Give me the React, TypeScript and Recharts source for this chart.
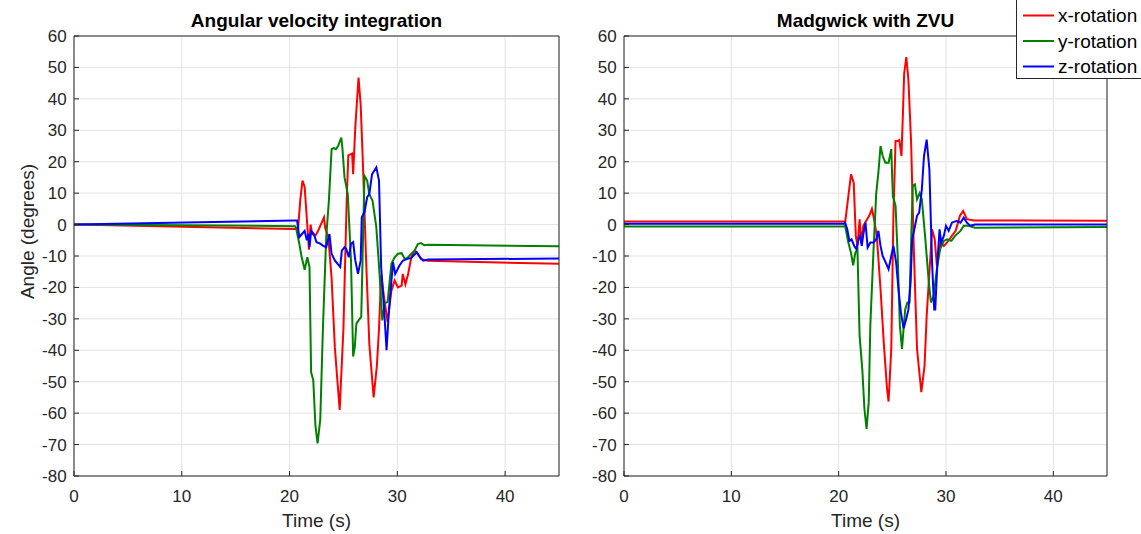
import { CartesianGrid, Line, LineChart, XAxis, YAxis } from "recharts";

// [time (s), angle (deg)]
const intX: [number, number][] = [
  [0, 0], [20.5, -1.4], [20.8, -1], [21.0, 8], [21.2, 14], [21.4, 12], [21.6, 2], [21.8, -8],
  [21.95, 0], [22.1, -3], [22.4, -3.5], [22.6, -2.4], [22.9, 0], [23.2, 2.3], [23.3, -1],
  [23.6, -4], [23.9, -17], [24.2, -39], [24.65, -59], [25.0, -33], [25.3, 7.6], [25.45, 22],
  [25.8, 22.6], [25.9, 16], [26.1, 31], [26.4, 46.8], [26.6, 38], [26.8, 20], [27.1, -11],
  [27.4, -38], [27.8, -55], [28.1, -45], [28.3, -33], [28.5, -16], [28.8, -24], [29.1, -31],
  [29.45, -21], [29.75, -17.8], [30.06, -20], [30.4, -19.4], [30.5, -15.7], [30.75, -19],
  [31.0, -15.7], [31.3, -10.4], [31.6, -8.3], [31.9, -9.3], [32.2, -11], [32.85, -11.5],
  [45, -12.5],
];
const intY: [number, number][] = [
  [0, 0], [20.5, -0.5], [20.6, -1], [20.9, -6], [21.1, -10], [21.4, -14.4], [21.65, -10.4],
  [21.85, -13.5], [22.0, -47], [22.2, -49.5], [22.4, -64], [22.6, -69.6], [22.85, -62],
  [23.1, -32.6], [23.4, -4], [23.65, 7.6], [23.9, 24], [24.1, 24.3], [24.3, 24], [24.5, 25],
  [24.8, 27.7], [24.9, 24.5], [25.1, 15], [25.4, 9.7], [25.7, -11.4], [25.9, -42], [26.05, -39],
  [26.2, -31.5], [26.4, -30.5], [26.65, -29.4], [26.8, -7], [26.95, 15.5], [27.2, 14],
  [27.4, 9.7], [27.7, 7.6], [28.05, -0.8], [28.35, -15.7], [28.6, -30.5], [28.85, -25],
  [29.1, -24.6], [29.45, -12.5], [29.75, -10.4], [30.05, -9.3], [30.4, -9.1], [30.7, -11],
  [31.0, -10.4], [31.3, -9.3], [31.6, -8.3], [31.9, -6.2], [32.2, -5.9], [32.5, -6.6],
  [32.85, -6.4], [45, -6.9],
];
const intZ: [number, number][] = [
  [0, 0], [20.45, 1.3], [20.7, 1.3], [20.9, -4], [21.15, -3], [21.4, -2], [21.6, -5],
  [21.75, -3], [21.85, -7.2], [22.0, -2], [22.25, -3], [22.5, -5.6], [22.8, -6], [23.1, -6.7],
  [23.4, -7.2], [23.7, -3], [23.9, -9.3], [24.2, -11.4], [24.5, -12.7], [24.7, -13.5],
  [24.85, -8.3], [25.1, -7.2], [25.25, -7.7], [25.5, -10.4], [25.7, -6.1], [25.9, -5.6],
  [26.1, -11.4], [26.35, -15.7], [26.6, -11.4], [26.7, 2.3], [26.95, 3.9], [27.2, 8.7],
  [27.4, 9.7], [27.65, 16], [28.05, 18.2], [28.3, 14], [28.5, -13.5], [28.8, -28.4], [29.0, -40],
  [29.2, -28.4], [29.4, -20], [29.6, -12], [29.8, -15.7], [30.2, -13], [30.5, -11.5],
  [30.85, -11], [31.3, -10.6], [31.8, -8.8], [32.1, -10.4], [32.4, -11.5], [32.85, -11.1],
  [45, -10.8],
];

const madX: [number, number][] = [
  [0, 1], [20.5, 1], [20.6, 0.6], [20.9, 9], [21.15, 16], [21.4, 13.3], [21.6, -3.6],
  [21.75, -6.8], [21.95, 1.7], [22.1, -5.7], [22.3, -0.4], [22.65, 1.7], [22.85, 2.8], [23.1, 5],
  [23.3, 1.7], [23.55, -3.6], [23.9, -20.5], [24.2, -37.5], [24.5, -52], [24.65, -56.3],
  [24.9, -39.6], [25.1, 2.8], [25.3, 26.6], [25.5, 26.6], [25.65, 26.9], [25.85, 21.8],
  [26.0, 36.6], [26.1, 48], [26.3, 53.3], [26.5, 46], [26.75, 26], [27.0, -7.8], [27.3, -39.6],
  [27.7, -53.3], [28.0, -45], [28.2, -29], [28.55, -10], [28.7, -1.5], [28.95, -4.7],
  [29.15, -13], [29.3, -10], [29.5, -5.7], [29.8, -6.8], [30.1, -5.7], [30.55, -3.6], [30.9, -2],
  [31.3, 2.8], [31.6, 4.3], [31.95, 1.7], [32.6, 1.3], [45, 1.2],
];
const madY: [number, number][] = [
  [0, -0.6], [20.5, -0.6], [20.6, -0.4], [20.9, -5.7], [21.15, -9], [21.35, -13], [21.55, -9],
  [21.75, -7.8], [21.95, -35.4], [22.2, -46], [22.4, -58.6], [22.6, -65], [22.8, -56.5],
  [22.95, -32], [23.25, -7.8], [23.5, 10], [23.7, 16.5], [23.9, 25], [24.1, 21.8], [24.35, 19.7],
  [24.65, 19.7], [24.9, 24], [25.05, 9], [25.3, 6], [25.5, -10], [25.7, -32], [25.9, -39.6],
  [26.05, -33], [26.2, -27], [26.4, -24.8], [26.6, -24.8], [26.75, -5.7], [26.9, 12.3],
  [27.1, 12.8], [27.3, 8], [27.55, 10], [27.75, 8], [28.05, -3.6], [28.4, -18.4], [28.6, -24.8],
  [28.85, -22.6], [29.15, -14.2], [29.45, -7.8], [29.8, -5.2], [30.1, -4.7], [30.5, -5.2],
  [30.85, -3.6], [31.35, -2], [31.65, -0.4], [32.1, -0.4], [32.7, -1], [45, -0.8],
];
const madZ: [number, number][] = [
  [0, 0.3], [20.5, 0.3], [20.6, 0.6], [20.8, -1.5], [21.0, -5.2], [21.2, -4.7], [21.45, -6.8],
  [21.65, -7.8], [21.85, -4.7], [22.0, -3.6], [22.15, -6.8], [22.3, -3], [22.5, 0.6],
  [22.7, -7.3], [22.95, -5.7], [23.25, -5.7], [23.5, -4.7], [23.7, -2], [23.9, -6.8],
  [24.1, -10], [24.45, -12.6], [24.65, -14.2], [24.9, -10], [25.1, -6.8], [25.35, -12],
  [25.6, -21.6], [25.8, -28], [26.05, -33], [26.3, -30], [26.5, -27], [26.7, -18.4],
  [26.85, -4.7], [27.05, -1.5], [27.3, 2.8], [27.5, 3.8], [27.75, 11.2], [27.95, 21.8],
  [28.2, 27], [28.45, 17.6], [28.7, -12], [28.9, -27], [29.0, -27], [29.2, -12], [29.4, -1.5],
  [29.55, -5.7], [29.8, -3.6], [30.0, -0.4], [30.25, -2], [30.55, 0.6], [31.0, 1.2],
  [31.35, 0.6], [31.65, 2.2], [31.95, 0.6], [32.25, -0.4], [32.7, 0], [45, 0],
];

const xTicks = [0, 10, 20, 30, 40];
const yTicks = [-80, -70, -60, -50, -40, -30, -20, -10, 0, 10, 20, 30, 40, 50, 60];
const seriesNames = ["x-rotation", "y-rotation", "z-rotation"];
const seriesColors = ["#ff0000", "#008000", "#0000ff"];

const FONT = '"Liberation Sans", Arial, Helvetica, sans-serif';
const AXIS = "#262626";
const H = 534;

const toPoints = (d: [number, number][]) => d.map(([t, v]) => ({ t, v }));

type PanelProps = {
  left: number;
  width: number;
  yAxisWidth: number;
  marginRight: number;
  series: [number, number][][];
};

function Panel({ left, width, yAxisWidth, marginRight, series }: PanelProps) {
  const last = series.length - 1;
  return (
    <div style={{ position: "absolute", left, top: 0, width, height: H }}>
      <LineChart width={width} height={H} margin={{ top: 35, right: marginRight - 1, bottom: 0, left: 0 }}>
        <CartesianGrid stroke="#e3e3e3" />
        <XAxis
          type="number"
          dataKey="t"
          domain={[0, 45]}
          ticks={xTicks}
          interval={0}
          allowDataOverflow
          height={58}
          tickSize={-5}
          tickMargin={18.6}
          stroke={AXIS}
          tick={{ fontSize: 17, fill: AXIS, fontFamily: FONT }}
        />
        {/* mirrored axes close the box, MATLAB style (size 0 would not render) */}
        <XAxis
          xAxisId="top"
          orientation="top"
          type="number"
          dataKey="t"
          domain={[0, 45]}
          ticks={xTicks}
          interval={0}
          allowDataOverflow
          height={1}
          tickSize={-5}
          tick={false}
          stroke={AXIS}
        />
        <YAxis
          type="number"
          domain={[-80, 60]}
          ticks={yTicks}
          interval={0}
          allowDataOverflow
          width={yAxisWidth}
          tickSize={-5}
          tickMargin={12.3}
          stroke={AXIS}
          tick={{ fontSize: 17, fill: AXIS, fontFamily: FONT }}
        />
        <YAxis
          yAxisId="right"
          orientation="right"
          type="number"
          domain={[-80, 60]}
          ticks={yTicks}
          interval={0}
          allowDataOverflow
          width={1}
          tickSize={-5}
          tick={false}
          stroke={AXIS}
        />
        {series.map((s, i) => (
          <Line
            key={seriesNames[i]}
            data={toPoints(s)}
            dataKey="v"
            name={seriesNames[i]}
            xAxisId={i === last ? "top" : 0}
            yAxisId={i === last ? "right" : 0}
            type="linear"
            stroke={seriesColors[i]}
            strokeWidth={2}
            dot={false}
            isAnimationActive={false}
          />
        ))}
      </LineChart>
    </div>
  );
}

export default function App() {
  return (
    <div style={{ position: "absolute", left: 0, top: 0, width: 1141, height: H, background: "#fff", overflow: "hidden" }}>
      <Panel left={0} width={570} yAxisWidth={74} marginRight={11} series={[intX, intY, intZ]} />
      <Panel left={570} width={571} yAxisWidth={54} marginRight={34} series={[madX, madY, madZ]} />
      <svg
        width={1141}
        height={H}
        style={{ position: "absolute", left: 0, top: 0, pointerEvents: "none" }}
        fontFamily={FONT}
      >
        <text x={316.5} y={26.5} textAnchor="middle" fontSize={19} fontWeight="bold" fill="#000">
          Angular velocity integration
        </text>
        <text x={865.5} y={26.5} textAnchor="middle" fontSize={19} fontWeight="bold" fill="#000">
          Madgwick with ZVU
        </text>
        <text x={316.5} y={527} textAnchor="middle" fontSize={19} fill={AXIS}>
          Time (s)
        </text>
        <text x={865.5} y={527} textAnchor="middle" fontSize={19} fill={AXIS}>
          Time (s)
        </text>
        <text
          x={34.3}
          y={231.5}
          textAnchor="middle"
          fontSize={19}
          fill={AXIS}
          transform="rotate(-90 34.3 231.5)"
        >
          Angle (degrees)
        </text>
        <rect x={1016.5} y={-1} width={140} height={79.5} fill="#fff" stroke={AXIS} strokeWidth={1} />
        {seriesNames.map((name, i) => (
          <g key={name}>
            <line x1={1023} x2={1054} y1={15.5 + i * 25.5} y2={15.5 + i * 25.5} stroke={seriesColors[i]} strokeWidth={2} />
            <text x={1058} y={22 + i * 25.6} fontSize={19} fill="#000">
              {name}
            </text>
          </g>
        ))}
      </svg>
    </div>
  );
}
